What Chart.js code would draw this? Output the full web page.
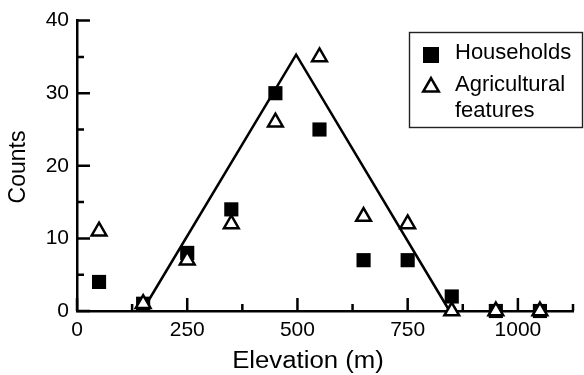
<!DOCTYPE html>
<html>
<head>
<meta charset="utf-8">
<script src="https://cdn.jsdelivr.net/npm/chart.js@4.4.0/dist/chart.umd.min.js"></script>
<style>
  html, body { margin: 0; background: #fff; }
  canvas { display: block; }
</style>
</head>
<body>
<canvas id="chart" width="584" height="375"></canvas>
<script>
// counts per 100 m elevation band
const ELEVATION = [50, 150, 250, 350, 450, 550, 650, 750, 850, 950, 1050];
const HOUSEHOLDS = [4, 1, 8, 14, 30, 25, 7, 7, 2, 0, 0];
const AGRICULTURAL = [11, 1, 7, 12, 26, 35, 13, 12, 0, 0, 0];

// triangular envelope drawn over the points
const ENVELOPE_X = [148, 497, 845];
const ENVELOPE_Y = [0, 35.3, 0];

const X_TICKS = [0, 250, 500, 750, 1000];
const X_MINOR = [125, 375, 625, 875, 1125];
const Y_TICKS = [0, 10, 20, 30, 40];
const Y_MINOR = [5, 15, 25, 35];

const FONT = "'Liberation Sans', Arial, Helvetica, sans-serif";
const toXY = (xs, ys) => xs.map((x, i) => ({ x, y: ys[i] }));

// inward tick marks, axis titles and the boxed legend
const extras = {
  id: 'extras',
  afterDraw(chart) {
    const { ctx, chartArea: a, scales: { x, y } } = chart;
    ctx.save();
    ctx.strokeStyle = '#000';
    ctx.lineWidth = 2.5;
    ctx.beginPath();
    const tx = (vals, len) => vals.forEach(v => {
      const px = x.getPixelForValue(v);
      ctx.moveTo(px, a.bottom); ctx.lineTo(px, a.bottom - len);
    });
    const ty = (vals, len) => vals.forEach(v => {
      const py = y.getPixelForValue(v);
      ctx.moveTo(a.left, py); ctx.lineTo(a.left + len, py);
    });
    tx(X_TICKS, 13); tx(X_MINOR, 7);
    ty(Y_TICKS, 13); ty(Y_MINOR, 7);
    ctx.stroke();

    // axis titles (reference type is a little wider than Liberation Sans)
    ctx.fillStyle = '#000';
    ctx.font = '23px ' + FONT;
    ctx.textAlign = 'center';
    ctx.textBaseline = 'alphabetic';
    ctx.save();
    ctx.translate(308, 368);
    ctx.scale(1.12, 1);
    ctx.fillText('Elevation (m)', 0, 0);
    ctx.restore();
    ctx.save();
    ctx.translate(25, 167);
    ctx.rotate(-Math.PI / 2);
    ctx.fillText('Counts', 0, 0);
    ctx.restore();

    // legend
    ctx.lineWidth = 1.4;
    ctx.strokeStyle = '#222';
    ctx.strokeRect(409.5, 32.5, 173, 95);
    ctx.fillStyle = '#000';
    Chart.helpers.drawPoint(ctx, { pointStyle: 'rect', radius: 11.3, rotation: 0, borderWidth: 0 }, 431, 55);
    ctx.fillStyle = '#fff';
    ctx.strokeStyle = '#000';
    ctx.lineWidth = 2.5;
    Chart.helpers.drawPoint(ctx, { pointStyle: 'triangle', radius: 9, rotation: 0, borderWidth: 2.5 }, 431, 87);
    ctx.fillStyle = '#000';
    ctx.font = '22px ' + FONT;
    ctx.textAlign = 'left';
    ctx.fillText('Households', 455, 59);
    ctx.fillText('Agricultural', 455, 91);
    ctx.fillText('features', 455, 117);
    ctx.restore();
  }
};

new Chart(document.getElementById('chart'), {
  type: 'scatter',
  data: {
    datasets: [
      {
        label: 'Agricultural features',
        data: toXY(ELEVATION, AGRICULTURAL),
        pointStyle: 'triangle',
        pointRadius: 8.5,
        backgroundColor: '#fff',
        borderColor: '#000',
        borderWidth: 2.5,
        clip: false,
        order: 0
      },
      {
        label: 'Households',
        data: toXY(ELEVATION, HOUSEHOLDS),
        pointStyle: 'rect',
        pointRadius: 10,
        backgroundColor: '#000',
        borderWidth: 0,
        clip: false,
        order: 1
      },
      {
        type: 'line',
        label: 'envelope',
        data: toXY(ENVELOPE_X, ENVELOPE_Y),
        borderColor: '#000',
        borderWidth: 2.5,
        pointRadius: 0,
        fill: false,
        tension: 0,
        clip: false,
        order: 2
      }
    ]
  },
  options: {
    responsive: false,
    animation: false,
    layout: { padding: { top: 16, right: 1, left: 0, bottom: 0 } },
    plugins: { legend: { display: false }, tooltip: { enabled: false } },
    scales: {
      x: {
        type: 'linear',
        min: 0, max: 1125,
        grid: { display: false, drawTicks: false },
        border: { display: true, color: '#000', width: 2.5 },
        afterBuildTicks: s => { s.ticks = X_TICKS.map(v => ({ value: v })); },
        afterFit: s => { s.height = 64; },
        ticks: { color: '#000', padding: 7, maxRotation: 0, callback: v => String(v), font: { family: FONT, size: 21 } }
      },
      y: {
        min: 0, max: 40,
        grid: { display: false, drawTicks: false },
        border: { display: true, color: '#000', width: 2.5 },
        afterBuildTicks: s => { s.ticks = Y_TICKS.map(v => ({ value: v })); },
        afterFit: s => { s.width = 77; },
        ticks: { color: '#000', padding: 8, callback: v => String(v), font: { family: FONT, size: 21 } }
      }
    }
  },
  plugins: [extras]
});
</script>
</body>
</html>
